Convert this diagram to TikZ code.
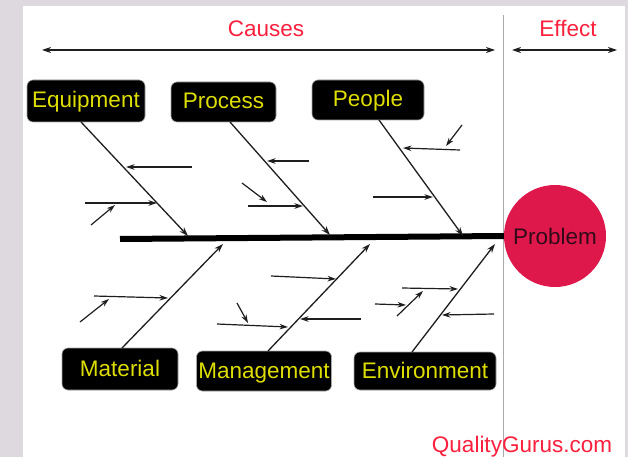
\documentclass[tikz,border=0pt]{standalone}
\usepackage{fontspec}
\setmainfont{Liberation Sans}
\usetikzlibrary{arrows.meta}
\definecolor{bgray}{RGB}{221,217,222}
\definecolor{redtxt}{RGB}{250,32,62}
\definecolor{probfill}{RGB}{222,24,74}
\definecolor{ylw}{RGB}{222,222,0}
\definecolor{probtxt}{RGB}{50,10,25}
\definecolor{sepgray}{RGB}{170,170,170}
\definecolor{linec}{RGB}{30,30,30}
\begin{document}
\begin{tikzpicture}[x=1pt,y=-1pt,
  cat/.style={draw=gray!70, line width=0.6pt, fill=black, rounded corners=6pt, text=ylw,
    font=\fontsize{22.5}{25}\selectfont, inner sep=0pt, text height=16.5pt, text depth=2.5pt},
  bone/.style={draw=linec, line width=1.3pt, -{Stealth[length=9pt,width=6pt]}},
  subarr/.style={draw=linec, line width=1.2pt, -{Stealth[length=8.5pt,width=5.5pt]}},
  lbl/.style={font=\fontsize{22.5}{25}\selectfont, text=redtxt, inner sep=0pt, anchor=base},
  span/.style={draw=linec, line width=1.1pt, {Stealth[length=9pt,width=6pt]}-{Stealth[length=9pt,width=6pt]}},
]
\useasboundingbox (0,0) rectangle (628,457);
\fill[bgray] (0,0) rectangle (628,457);
\fill[white] (23,6) rectangle (625,457);

% separator
\coordinate (sepT) at (503,15);
\coordinate (sepB) at (503,457);
\draw[sepgray, line width=0.8pt] (sepT) -- (sepB);

% headings
\node[lbl] (causes) at (266,37) {Causes};
\node[lbl] (effect) at (568,37) {Effect};
\node[lbl] (qg) at (522,452) {QualityGurus.com};
\coordinate (cL) at (42,50); \coordinate (cR) at (495,50);
\coordinate (eL) at (512,50); \coordinate (eR) at (617,50);
\draw[span] (cL) -- (cR);
\draw[span] (eL) -- (eR);

% problem
\node[circle, fill=probfill, minimum size=102pt, inner sep=0pt, text=probtxt,
  font=\fontsize{22.5}{25}\selectfont] (prob) at (555,236) {Problem};

% spine
\coordinate (spL) at (120,239);
\draw[line width=6pt] (spL) -- (prob.west);

% category boxes
\node[cat, minimum width=118pt, minimum height=42pt] (eq) at (86,101) {Equipment};
\node[cat, minimum width=105pt, minimum height=40pt] (pr) at (223.5,102) {Process};
\node[cat, minimum width=112pt, minimum height=40pt] (pe) at (368,100) {People};
\node[cat, minimum width=116pt, minimum height=42pt] (ma) at (120,369) {Material};
\node[cat, minimum width=135pt, minimum height=40pt] (mg) at (264,371) {Management};
\node[cat, minimum width=142pt, minimum height=38pt] (en) at (425,371) {Environment};

% bones
\coordinate (eqS) at (81,122);  \coordinate (eqE) at (188,236);
\coordinate (prS) at (230,122); \coordinate (prE) at (330,235);
\coordinate (peS) at (379,120); \coordinate (peE) at (463,236);
\coordinate (maS) at (122,348); \coordinate (maE) at (223,244);
\coordinate (mgS) at (268,351); \coordinate (mgE) at (370,244);
\coordinate (enS) at (412,352); \coordinate (enE) at (495,244);
\draw[bone] (eqS) -- (eqE);
\draw[bone] (prS) -- (prE);
\draw[bone] (peS) -- (peE);
\draw[bone] (maS) -- (maE);
\draw[bone] (mgS) -- (mgE);
\draw[bone] (enS) -- (enE);

% equipment causes
\coordinate (a1) at (192,167); \coordinate (a2) at (126,167);
\coordinate (a3) at (85,203);  \coordinate (a4) at (157,203);
\coordinate (a5) at (91,225);  \coordinate (a6) at (115,205);
\draw[subarr] (a1) -- (a2);
\draw[subarr] (a3) -- (a4);
\draw[subarr] (a5) -- (a6);

% process causes
\coordinate (b1) at (309,161); \coordinate (b2) at (267,161);
\coordinate (b3) at (248,206); \coordinate (b4) at (303,206);
\coordinate (b5) at (242,183); \coordinate (b6) at (267,202);
\draw[subarr] (b1) -- (b2);
\draw[subarr] (b3) -- (b4);
\draw[subarr] (b5) -- (b6);

% people causes
\coordinate (c1) at (460,150); \coordinate (c2) at (403,148);
\coordinate (c3) at (462,125); \coordinate (c4) at (446,146);
\coordinate (c5) at (373,197); \coordinate (c6) at (433,197);
\draw[subarr] (c1) -- (c2);
\draw[subarr] (c3) -- (c4);
\draw[subarr] (c5) -- (c6);

% material causes
\coordinate (d1) at (94,296);  \coordinate (d2) at (168,298);
\coordinate (d3) at (80,322);  \coordinate (d4) at (109,299);
\draw[subarr] (d1) -- (d2);
\draw[subarr] (d3) -- (d4);

% management causes
\coordinate (m1) at (271,276); \coordinate (m2) at (336,279);
\coordinate (m3) at (361,319); \coordinate (m4) at (300,319);
\coordinate (m5) at (217,324); \coordinate (m6) at (288,327);
\coordinate (m7) at (237,303); \coordinate (m8) at (248,323);
\draw[subarr] (m1) -- (m2);
\draw[subarr] (m3) -- (m4);
\draw[subarr] (m5) -- (m6);
\draw[subarr] (m7) -- (m8);

% environment causes
\coordinate (n1) at (402,288); \coordinate (n2) at (458,289);
\coordinate (n3) at (494,314); \coordinate (n4) at (442,315);
\coordinate (n5) at (397,316); \coordinate (n6) at (423,291);
\coordinate (n7) at (375,304); \coordinate (n8) at (406,305);
\draw[subarr] (n1) -- (n2);
\draw[subarr] (n3) -- (n4);
\draw[subarr] (n5) -- (n6);
\draw[subarr] (n7) -- (n8);
\end{tikzpicture}
\end{document}
